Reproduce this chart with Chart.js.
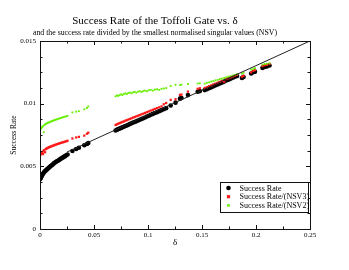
<!DOCTYPE html>
<html>
<head>
<meta charset="utf-8">
<script src="https://cdn.jsdelivr.net/npm/chart.js@4"></script>
<style>
html, body { margin: 0; padding: 0; background: #fff; }
</style>
</head>
<body>
<canvas id="myChart" width="349" height="270"></canvas>
<script>
/* values */
const delta = [
    0.0000, 0.0004, 0.0008, 0.0012, 0.0017, 0.0022, 0.0028, 0.0034, 0.0040, 0.0047, 0.0054, 0.0061, 0.0068, 0.0076, 0.0084, 0.0092,
    0.0100, 0.0109, 0.0118, 0.0127, 0.0136, 0.0146, 0.0156, 0.0166, 0.0176, 0.0187, 0.0198, 0.0209, 0.0220, 0.0232, 0.0244, 0.0255,
    0.0300, 0.0335, 0.0360, 0.0410, 0.0435, 0.0447,
    0.0700, 0.0712, 0.0725, 0.0738, 0.0750, 0.0763, 0.0776, 0.0790, 0.0804, 0.0818, 0.0832, 0.0847, 0.0862, 0.0877, 0.0892,
    0.0908, 0.0924, 0.0940, 0.0956, 0.0972, 0.0990, 0.1008, 0.1026, 0.1045, 0.1064, 0.1084, 0.1104, 0.1125, 0.1146, 0.1168,
    0.1210, 0.1255, 0.1296, 0.1310, 0.1370, 0.1460, 0.1480,
    0.1525, 0.1545, 0.1565, 0.1585, 0.1605, 0.1625, 0.1645, 0.1665, 0.1685, 0.1705, 0.1725, 0.1745, 0.1765, 0.1785, 0.1805, 0.1825,
    0.1870, 0.1885, 0.1955, 0.1975, 0.1990, 0.2060, 0.2080, 0.2100, 0.2125
];
const successRate = [
    0.00397, 0.00403, 0.00410, 0.00417, 0.00425, 0.00433, 0.00441, 0.00449, 0.00455, 0.00462, 0.00467, 0.00472, 0.00478, 0.00484, 0.00490, 0.00496,
    0.00502, 0.00509, 0.00515, 0.00522, 0.00528, 0.00534, 0.00540, 0.00545, 0.00551, 0.00557, 0.00563, 0.00569, 0.00575, 0.00581, 0.00588, 0.00594,
    0.00622, 0.00638, 0.00648, 0.00668, 0.00678, 0.00686,
    0.00786, 0.00792, 0.00797, 0.00801, 0.00806, 0.00811, 0.00816, 0.00822, 0.00826, 0.00832, 0.00837, 0.00843, 0.00849, 0.00854, 0.00860,
    0.00866, 0.00872, 0.00878, 0.00884, 0.00890, 0.00897, 0.00903, 0.00911, 0.00918, 0.00925, 0.00932, 0.00940, 0.00948, 0.00956, 0.00964,
    0.00985, 0.01008, 0.01040, 0.01045, 0.01068, 0.01095, 0.01100,
    0.01108, 0.01115, 0.01123, 0.01130, 0.01138, 0.01146, 0.01153, 0.01161, 0.01168, 0.01176, 0.01184, 0.01191, 0.01199, 0.01206, 0.01214, 0.01221,
    0.01205, 0.01212, 0.01240, 0.01250, 0.01255, 0.01285, 0.01292, 0.01296, 0.01304
];
const rateNSV3 = [
    0.00588, 0.00594, 0.00599, 0.00604, 0.00610, 0.00615, 0.00598, 0.00625, 0.00629, 0.00612, 0.00638, 0.00642, 0.00645, 0.00649, 0.00652, 0.00655,
    0.00658, 0.00661, 0.00664, 0.00667, 0.00670, 0.00673, 0.00676, 0.00679, 0.00682, 0.00685, 0.00688, 0.00691, 0.00694, 0.00697, 0.00700, 0.00704,
    0.00722, 0.00730, 0.00735, 0.00745, 0.00760, 0.00768,
    0.00830, 0.00835, 0.00840, 0.00845, 0.00849, 0.00854, 0.00858, 0.00864, 0.00868, 0.00873, 0.00878, 0.00883, 0.00889, 0.00893, 0.00899,
    0.00904, 0.00909, 0.00915, 0.00920, 0.00926, 0.00932, 0.00938, 0.00945, 0.00951, 0.00958, 0.00964, 0.00971, 0.00978, 0.00995, 0.01005,
    0.01030, 0.01035, 0.01070, 0.01072, 0.01096, 0.01118, 0.01123,
    0.01125, 0.01131, 0.01139, 0.01145, 0.01153, 0.01160, 0.01167, 0.01174, 0.01181, 0.01175, 0.01196, 0.01202, 0.01209, 0.01216, 0.01223, 0.01230,
    0.01215, 0.01222, 0.01250, 0.01262, 0.01268, 0.01300, 0.01306, 0.01310, 0.01316
];
const rateNSV2 = [
    0.00790, 0.00796, 0.00801, 0.00806, 0.00811, 0.00816, 0.00821, 0.00772, 0.00830, 0.00834, 0.00838, 0.00842, 0.00845, 0.00848, 0.00851, 0.00854,
    0.00857, 0.00860, 0.00863, 0.00866, 0.00869, 0.00872, 0.00875, 0.00878, 0.00881, 0.00884, 0.00887, 0.00890, 0.00893, 0.00896, 0.00899, 0.00903,
    0.00930, 0.00936, 0.00940, 0.00955, 0.00965, 0.00978,
    0.01058, 0.01066, 0.01062, 0.01070, 0.01074, 0.01068, 0.01078, 0.01082, 0.01076, 0.01085, 0.01088, 0.01083, 0.01090, 0.01094, 0.01088,
    0.01096, 0.01099, 0.01093, 0.01101, 0.01104, 0.01099, 0.01107, 0.01110, 0.01104, 0.01112, 0.01115, 0.01110, 0.01118, 0.01121, 0.01124,
    0.01140, 0.01150, 0.01148, 0.01152, 0.01157, 0.01160, 0.01162,
    0.01160, 0.01166, 0.01170, 0.01176, 0.01180, 0.01186, 0.01190, 0.01196, 0.01200, 0.01205, 0.01210, 0.01215, 0.01219, 0.01224, 0.01229, 0.01234,
    0.01240, 0.01246, 0.01272, 0.01278, 0.01282, 0.01312, 0.01316, 0.01318, 0.01322
];
const fitDelta = [0.025, 0.25];
const fitRate = [0.00614, 0.015];

const xTickValues = [0, 0.05, 0.1, 0.15, 0.2, 0.25];
const xTickLabels = ['0', '0.05', '0.1', '0.15', '0.2', '0.25'];
const xMinorTicks = [0.025, 0.075, 0.125, 0.175, 0.225];
const yTickValues = [0, 0.005, 0.01, 0.015];
const yTickLabels = ['0', '0.005', '0.01', '0.015'];
const yMinorTicks = [0.00125, 0.0025, 0.00375, 0.00625, 0.0075, 0.00875, 0.01125, 0.0125, 0.01375];

const serif = 'Liberation Serif';

function toPoints(xs, ys) {
    return xs.map((x, i) => ({ x: x, y: ys[i] }));
}

/* frame with inward ticks on all four sides */
const frameTicks = {
    id: 'frameTicks',
    afterDraw(chart) {
        const { ctx, chartArea: a, scales: { x, y } } = chart;
        ctx.save();
        ctx.strokeStyle = '#111';
        ctx.lineWidth = 1;
        ctx.strokeRect(Math.round(a.left) + 0.5, Math.round(a.top) + 0.5, Math.round(a.right - a.left), Math.round(a.bottom - a.top));
        ctx.beginPath();
        const xt = (v, len) => {
            const px = Math.round(x.getPixelForValue(v)) + 0.5;
            ctx.moveTo(px, a.bottom); ctx.lineTo(px, a.bottom - len);
            ctx.moveTo(px, a.top); ctx.lineTo(px, a.top + len);
        };
        const yt = (v, len) => {
            const py = Math.round(y.getPixelForValue(v)) + 0.5;
            ctx.moveTo(a.left, py); ctx.lineTo(a.left + len, py);
            ctx.moveTo(a.right, py); ctx.lineTo(a.right - len, py);
        };
        xTickValues.forEach(v => xt(v, 4));
        xMinorTicks.forEach(v => xt(v, 2.5));
        yTickValues.forEach(v => yt(v, 4));
        yMinorTicks.forEach(v => yt(v, 2.5));
        ctx.stroke();
        ctx.restore();
    }
};

/* boxed legend in the lower right of the plot */
const legendBox = {
    id: 'legendBox',
    afterDraw(chart) {
        const { ctx, chartArea: a } = chart;
        const sets = chart.data.datasets.slice(0, 3);
        const w = 88, h = 30;
        const x0 = Math.round(a.right) - 89.5, y0 = Math.round(a.bottom) - 46.5;
        ctx.save();
        ctx.fillStyle = '#fff';
        ctx.fillRect(x0, y0, w, h);
        ctx.strokeStyle = '#111';
        ctx.lineWidth = 1;
        ctx.strokeRect(x0, y0, w, h);
        ctx.font = '8px "' + serif + '"';
        ctx.textBaseline = 'middle';
        sets.forEach((ds, i) => {
            const cy = y0 + 5.5 + i * 8.7;
            ctx.fillStyle = ds.backgroundColor;
            if (ds.pointStyle === 'circle') {
                ctx.beginPath();
                ctx.arc(x0 + 8, cy, ds.pointRadius, 0, Math.PI * 2);
                ctx.fill();
            } else {
                const r = ds.pointRadius;
                ctx.fillRect(x0 + 8 - r, cy - r, r * 2, r * 2);
            }
            ctx.fillStyle = '#000';
            ctx.fillText(ds.label, x0 + 19, cy + 0.5);
        });
        ctx.restore();
    }
};

const ctx = document.getElementById('myChart');

new Chart(ctx, {
    type: 'scatter',
    data: {
        datasets: [{
            label: 'Success Rate',
            data: toPoints(delta, successRate),
            backgroundColor: '#000000',
            borderWidth: 0,
            pointStyle: 'circle',
            pointRadius: 2.3,
            order: 3
        }, {
            label: 'Success Rate/(NSV3)',
            data: toPoints(delta, rateNSV3),
            backgroundColor: '#ff1a1a',
            borderWidth: 0,
            pointStyle: 'rect',
            pointRadius: 1.6,
            order: 2
        }, {
            label: 'Success Rate/(NSV2)',
            data: toPoints(delta, rateNSV2),
            backgroundColor: '#66ee00',
            borderWidth: 0,
            pointStyle: 'rect',
            pointRadius: 1.3,
            order: 1
        }, {
            label: 'fit',
            type: 'line',
            data: toPoints(fitDelta, fitRate),
            borderColor: '#222',
            borderWidth: 1,
            pointRadius: 0,
            showLine: true,
            order: 0
        }]
    },
    options: {
        responsive: false,
        animation: false,
        layout: { padding: { left: 0, right: 39, top: 0, bottom: 0 } },
        plugins: {
            legend: { display: false },
            tooltip: { enabled: false },
            title: {
                display: true,
                text: 'Success Rate of the Toffoli Gate vs. δ',
                color: '#000',
                font: { family: serif, size: 11, weight: 'normal' },
                padding: { top: 15, bottom: 0 }
            },
            subtitle: {
                display: true,
                text: 'and the success rate divided by the smallest normalised singular values (NSV)',
                color: '#000',
                font: { family: serif, size: 7.8 },
                padding: { top: 0, bottom: 3.4 }
            }
        },
        scales: {
            x: {
                type: 'linear',
                min: 0,
                max: 0.25,
                afterBuildTicks: s => { s.ticks = xTickValues.map(v => ({ value: v })); },
                afterFit: s => { s.height = 41; },
                ticks: {
                    callback: (v, i) => xTickLabels[i],
                    color: '#000',
                    font: { family: serif, size: 7 },
                    padding: 2,
                    maxRotation: 0,
                    autoSkip: false
                },
                grid: { display: false, drawTicks: false },
                border: { display: false },
                title: {
                    display: true,
                    text: 'δ',
                    color: '#000',
                    font: { family: serif, size: 9 },
                    padding: { top: 0, bottom: 22 }
                }
            },
            y: {
                type: 'linear',
                min: 0,
                max: 0.015,
                afterBuildTicks: s => { s.ticks = yTickValues.map(v => ({ value: v })); },
                afterFit: s => { s.width = 40; },
                ticks: {
                    callback: (v, i) => yTickLabels[i],
                    color: '#000',
                    font: { family: serif, size: 7 },
                    padding: 4
                },
                grid: { display: false, drawTicks: false },
                border: { display: false },
                title: {
                    display: true,
                    text: 'Success Rate',
                    color: '#000',
                    font: { family: serif, size: 7.5 },
                    padding: { top: 10, bottom: 0 }
                }
            }
        }
    },
    plugins: [frameTicks, legendBox]
});
</script>
</body>
</html>
